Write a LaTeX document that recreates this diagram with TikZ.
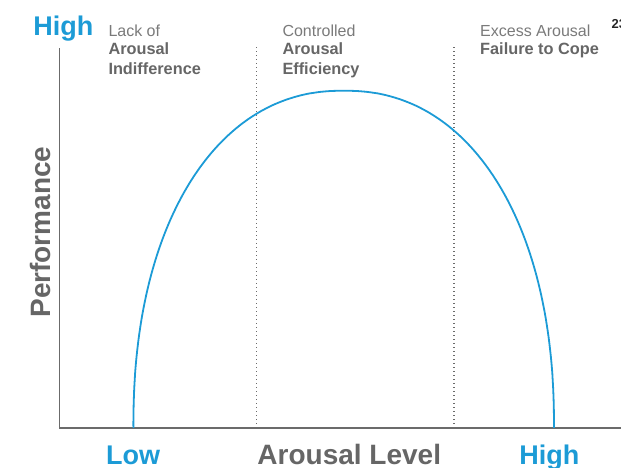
\documentclass[tikz,border=0pt]{standalone}
\usepackage{fontspec}
\setmainfont{Liberation Sans}
\definecolor{curveblue}{HTML}{1C9BD6}
\definecolor{axisgray}{HTML}{6B6B6B}
\definecolor{labelgray}{HTML}{666666}
\definecolor{lightgray}{HTML}{7A7A7A}
\begin{document}
\begin{tikzpicture}[x=1pt,y=-1pt,
  axis/.style={draw=axisgray,line width=1.8pt},
  zone/.style={draw=axisgray,line width=1.3pt,dash pattern=on 1.3pt off 2.7pt},
  curve/.style={draw=curveblue,line width=1.8pt},
  bigblue/.style={inner sep=0pt,text=curveblue,font=\fontsize{27}{30}\selectfont\bfseries},
  biggray/.style={inner sep=0pt,text=labelgray,font=\fontsize{28}{30}\selectfont\bfseries},
  zonehead/.style={inner sep=0pt,anchor=base west,text=lightgray,font=\fontsize{16}{19.5}\selectfont},
  zonename/.style={inner sep=0pt,anchor=base west,text=labelgray,font=\fontsize{16.3}{19.5}\selectfont\bfseries},
  pagenum/.style={inner sep=0pt,anchor=base west,text=black!85,font=\fontsize{13}{15}\selectfont\bfseries}]
\useasboundingbox (0,0) rectangle (621,467);

% zone separators
\coordinate (z1top) at (256.7,47);
\coordinate (z1bot) at (256.7,428);
\coordinate (z2top) at (454,47);
\coordinate (z2bot) at (454,428);
\draw[zone] (z1top) -- (z1bot);
\draw[zone] (z2top) -- (z2bot);

% axes
\coordinate (ytop) at (59.5,48);
\coordinate (origin) at (59.5,428);
\coordinate (xend) at (625,428);
\draw[axis] (ytop) -- (origin) -- (xend);

% inverted-U performance curve (superellipse)
\draw[curve] plot[domain=0:180,samples=241,variable=\t]
  ({343.7 + 210.3*sign(cos(\t))*max(abs(cos(\t)),0.0001)^0.91},
   {428 - 337.3*max(sin(\t),0.0001)^0.91});

% axis labels
\node[bigblue,anchor=base] (yhigh) at (63.4,35.7) {High};
\node[biggray,anchor=base,rotate=90] (perf) at (50.5,232) {Performance};
\node[bigblue,anchor=base] (xlow) at (133,464) {Low};
\node[biggray,anchor=base] (xlabel) at (349.3,464) {Arousal Level};
\node[bigblue,anchor=base] (xhigh) at (549.3,464) {High};

% zone captions
\node[zonehead] (h1) at (108.3,36) {Lack of};
\node[zonename] (n1a) at (108.3,54.5) {Arousal};
\node[zonename] (n1b) at (108.3,74) {Indifference};
\node[zonehead] (h2) at (282.3,36) {Controlled};
\node[zonename] (n2a) at (282.3,54.5) {Arousal};
\node[zonename] (n2b) at (282.3,74) {Efficiency};
\node[zonehead] (h3) at (480,36) {Excess Arousal};
\node[zonename] (n3a) at (480,54.5) {Failure to Cope};

% page number
\node[pagenum] (page) at (611.5,28.3) {23};
\end{tikzpicture}
\end{document}
